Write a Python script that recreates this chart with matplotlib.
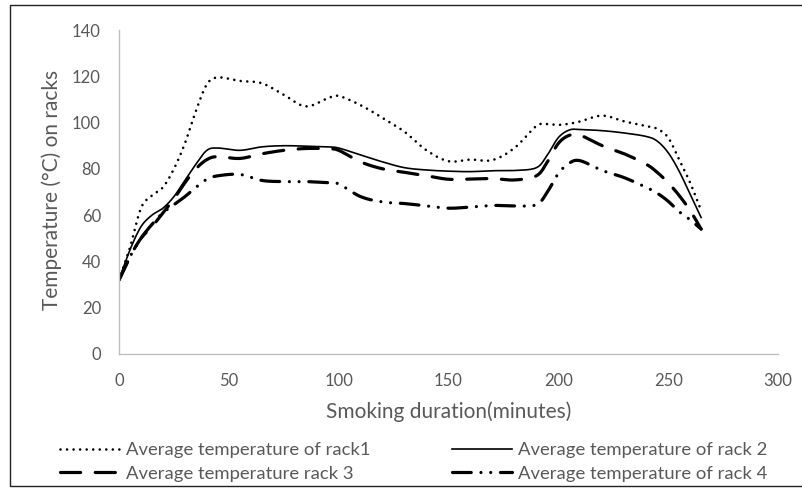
import numpy as np
import matplotlib
matplotlib.use("Agg")
import matplotlib.pyplot as plt
from matplotlib.patches import Rectangle

plt.rcParams['font.family'] = ['Lato', 'DejaVu Sans']
plt.rcParams['lines.scale_dashes'] = False

# minutes of smoking (x) and rack temperatures
minutes = [0, 5, 10, 15, 20, 25, 30, 35, 40, 45, 55, 65, 75, 85, 95, 100, 110, 120, 130,
           140, 150, 160, 170, 180, 190, 195, 200, 205, 210, 220, 230, 240, 245, 250, 255, 260, 265]
rack1 = [32, 46, 63, 68.5, 72, 80, 91, 105, 116.5, 119.5, 118, 117, 112, 107, 110.5, 111.5, 107.5, 102, 96,
         88, 83.3, 84, 83.8, 89, 98.5, 99.3, 99, 99.5, 100.5, 103, 100.5, 98.5, 97.3, 93.5, 84, 74, 62]
rack2 = [32, 45, 55, 60, 63, 68, 75, 82, 88, 89, 88, 89.5, 90, 89.8, 89.5, 89, 86, 83, 80.5,
         79.5, 79, 78.8, 79.2, 79.3, 80.5, 86, 93.5, 96.8, 97, 96.5, 95.5, 94, 92, 87, 79, 69, 59]
rack3 = [32, 42, 50, 55, 61, 67, 74, 80, 84, 85.3, 84.5, 86.5, 88, 88.8, 88.7, 88, 83, 80, 78.5,
         77, 75.5, 75.6, 75.8, 75.2, 77, 83, 91, 94.5, 94.5, 90, 86.5, 82, 78.5, 74, 68.5, 62, 54]
rack4 = [32, 42, 50, 56, 61, 64.5, 68, 72, 75.5, 77, 77.6, 75, 74.5, 74.5, 74, 73.5, 68, 65.7, 65,
         64, 63, 63.5, 64.2, 64, 64.5, 70, 78, 82.5, 83.5, 79.3, 76.2, 72, 69.5, 66, 61.5, 58, 54]

labels = ['Average temperature of rack1', 'Average temperature of rack 2',
          'Average temperature rack 3', 'Average temperature of rack 4']


def smooth(x, y, steps=20):
    # excel-like smoothed line (catmull-rom through the points)
    p = np.column_stack([x, y]).astype(float)
    n = len(p)
    out = [p[0]]
    t = np.linspace(0, 1, steps + 1)[1:, None]
    for i in range(n - 1):
        p0 = p[i - 1] if i > 0 else p[i]
        p1, p2 = p[i], p[i + 1]
        p3 = p[i + 2] if i + 2 < n else p[i + 1]
        c1 = p1 + (p2 - p0) / 6
        c2 = p2 - (p3 - p1) / 6
        seg = ((1 - t) ** 3) * p1 + 3 * ((1 - t) ** 2) * t * c1 + 3 * (1 - t) * t ** 2 * c2 + t ** 3 * p2
        out.extend(seg)
    out = np.array(out)
    return out[:, 0], out[:, 1]


W, H = 802, 488
fig = plt.figure(figsize=(W / 100, H / 100), dpi=100)
fig.patches.append(Rectangle((10 / W, 1 - 486 / H), 1.0, (486 - 5) / H, transform=fig.transFigure,
                             fill=False, edgecolor='#222222', linewidth=1.0))

ax = fig.add_axes([119 / W, 1 - 354 / H, (778 - 119) / W, (354 - 30) / H])

styles = [
    dict(color='black', lw=1.9, dashes=(0.01, 4.7), dash_capstyle='round'),
    dict(color='black', lw=1.2, linestyle='-'),
    dict(color='black', lw=2.3, dashes=(14.5, 10.5), dash_capstyle='round'),
    dict(color='black', lw=2.3, dashes=(13.5, 7.0, 0.01, 7.0, 0.01, 7.0), dash_capstyle='round'),
]
handles = []
for ys, st, lab in zip([rack1, rack2, rack3, rack4], styles, labels):
    sx, sy = smooth(minutes, ys)
    h, = ax.plot(sx, sy, label=lab, **st)
    handles.append(h)

ax.set_xlim(0, 300)
ax.set_ylim(0, 140)
ax.set_xticks(range(0, 301, 50))
ax.set_yticks(range(0, 141, 20))
for s in ['top', 'right']:
    ax.spines[s].set_visible(False)
for s in ['left', 'bottom']:
    ax.spines[s].set_color('#bfbfbf')
    ax.spines[s].set_linewidth(1.0)
ax.tick_params(length=0, labelsize=12, labelcolor='#595959')
ax.tick_params(axis='y', pad=13)
ax.tick_params(axis='x', pad=14)

fig.text(448.5 / W, 1 - 412 / H, 'Smoking duration(minutes)', ha='center', va='center',
         fontsize=15, color='#595959')
fig.text(52 / W, 1 - 190 / H, 'Temperature (°C) on racks', ha='center', va='center',
         rotation=90, fontsize=15, color='#595959')

leg_kw = dict(frameon=False, fontsize=13.3, handlelength=3.25, handletextpad=0.3,
              labelspacing=0.43, borderpad=0, borderaxespad=0, labelcolor='#595959')
fig.legend([handles[0], handles[2]], [labels[0], labels[2]], loc='upper left',
           bbox_to_anchor=(60 / W, 1 - 442 / H), **leg_kw)
fig.legend([handles[1], handles[3]], [labels[1], labels[3]], loc='upper left',
           bbox_to_anchor=(452 / W, 1 - 442 / H), **leg_kw)

fig.savefig('out.png', dpi=100)
